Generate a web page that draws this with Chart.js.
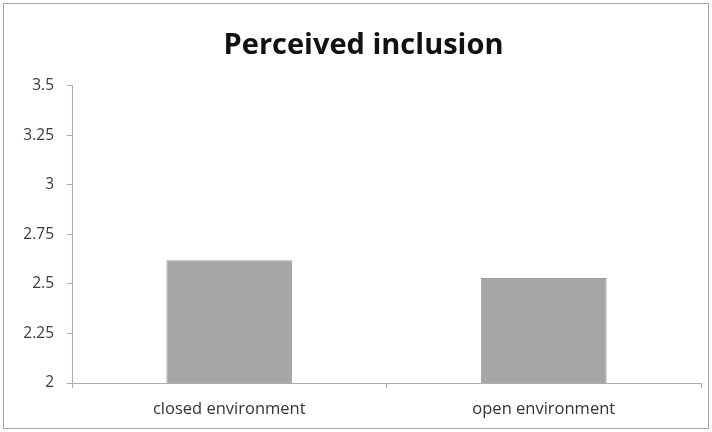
<!DOCTYPE html>
<html>
<head>
<meta charset="utf-8">
<script src="https://cdn.jsdelivr.net/npm/chart.js@4/dist/chart.umd.min.js"></script>
<style>
  html, body { margin: 0; padding: 0; background: #fff; }
  #wrap { position: relative; width: 712px; height: 432px; }
  #frame { position: absolute; left: 3px; top: 3px; width: 704px; height: 424px; border: 1px solid #a8a8a8; pointer-events: none; }
  canvas { position: absolute; left: 0; top: 0; }
</style>
</head>
<body>
<div id="wrap">
  <canvas id="chart" width="712" height="432"></canvas>
  <div id="frame"></div>
</div>
<script>
const categories = ['closed environment', 'open environment'];
const inclusion = [2.62, 2.53];
const yTicks = [2, 2.25, 2.5, 2.75, 3, 3.25, 3.5];

const axisColor = '#b3aaa6';

// nudge the title box so the heading sits a bit right of the canvas centre
const titleShift = {
    id: 'titleShift',
    afterLayout(chart) {
        if (chart.titleBlock) {
            chart.titleBlock.left += 26;
        }
    }
};

const ctx = document.getElementById('chart').getContext('2d');
new Chart(ctx, {
    type: 'bar',
    data: {
        labels: categories,
        datasets: [{
            label: 'Perceived inclusion',
            data: inclusion,
            backgroundColor: '#a6a6a6',
            borderColor: '#9a9a9a',
            borderWidth: 1,
            barPercentage: 0.4,
            categoryPercentage: 1.0
        }]
    },
    options: {
        responsive: false,
        animation: false,
        layout: {
            padding: { left: 0, right: 11, top: 0, bottom: 0 }
        },
        plugins: {
            legend: { display: false },
            tooltip: { enabled: false },
            title: {
                display: true,
                text: 'Perceived inclusion',
                color: '#111',
                font: { family: 'Open Sans', size: 29, weight: 'bold' },
                lineHeight: 1.2,
                padding: { top: 28, bottom: 23 }
            }
        },
        scales: {
            x: {
                offset: true,
                grid: {
                    offset: true,
                    drawOnChartArea: false,
                    drawTicks: true,
                    tickLength: 5,
                    color: axisColor
                },
                border: { color: axisColor, width: 1 },
                ticks: {
                    color: '#333',
                    font: { family: 'Open Sans', size: 16.5 },
                    padding: 11
                },
                afterFit: (scale) => { scale.height = 49; }
            },
            y: {
                min: yTicks[0],
                max: yTicks[yTicks.length - 1],
                afterBuildTicks: (scale) => {
                    scale.ticks = yTicks.map(v => ({ value: v }));
                },
                grid: {
                    drawOnChartArea: false,
                    drawTicks: true,
                    tickLength: 5,
                    color: axisColor
                },
                border: { color: axisColor, width: 1 },
                ticks: {
                    color: '#3a3a3a',
                    font: { family: 'Open Sans', size: 15.5 },
                    padding: 13,
                    callback: (value) => String(value)
                },
                afterFit: (scale) => { scale.width = 72; }
            }
        }
    },
    plugins: [titleShift]
});
</script>
</body>
</html>
